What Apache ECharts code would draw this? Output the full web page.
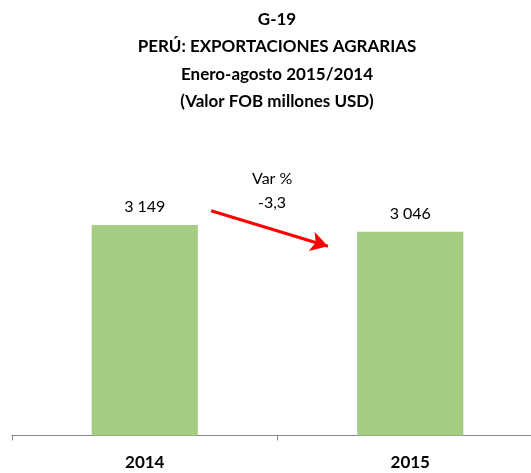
<!DOCTYPE html>
<html><head><meta charset="utf-8">
<script src="https://cdn.jsdelivr.net/npm/echarts@6/dist/echarts.min.js"></script>
<style>html,body{margin:0;padding:0;background:#fff}#c{width:531px;height:473px}</style>
</head><body><div id="c"></div>
<script>
var categories = ['2014', '2015'];
var values = [3149, 3046];
var titleLines = ['G-19', 'PERÚ: EXPORTACIONES AGRARIAS', 'Enero-agosto 2015/2014', '(Valor FOB millones USD)'];
var varLabel = 'Var %';
// arrow annotation endpoints in data units [categoryPosition, value]
var arrowFrom = [0.25, 3360];
var arrowTo = [0.69, 2830];

var FONT = 'Lato, "Open Sans", sans-serif';
function fmt(v){ return String(v).replace(/\B(?=(\d{3})+(?!\d))/g, ' '); }
var pct = ((values[1] / values[0]) - 1) * 100;
var pctText = pct.toFixed(1).replace('.', ',');

var chart = echarts.init(document.getElementById('c'));
var titles = titleLines.map(function(t, i){
  return { text: t, left: 272, textAlign: 'center', top: 6 + i * 27.5,
    textStyle: { fontFamily: FONT, fontSize: 17, fontWeight: 'bold', color: '#000' } };
});
chart.setOption({
  animation: false,
  title: titles,
  grid: { left: 12, width: 531, top: 168, bottom: 37.5, containLabel: false, outerBoundsMode: 'none' },
  xAxis: [{
    type: 'category', data: categories,
    axisLine: { lineStyle: { color: '#868686', width: 1 } },
    axisTick: { show: true, length: 5, lineStyle: { color: '#868686' } },
    axisLabel: { fontFamily: FONT, fontSize: 17, fontWeight: 'bold', color: '#000', margin: 19 }
  }, {
    type: 'value', min: -0.5, max: 1.5, show: false
  }],
  yAxis: { type: 'value', min: 0, max: 4000, show: false, splitLine: { show: false } },
  series: [{
    type: 'bar', data: values, barWidth: '40%',
    itemStyle: { color: '#A5CE84' },
    label: { show: true, position: 'top', distance: 10, formatter: function(p){ return fmt(p.value); },
      fontFamily: FONT, fontSize: 16, color: '#000' }
  }, {
    type: 'line', xAxisIndex: 1, data: [], silent: true,
    markLine: {
      silent: true, symbol: ['none', 'arrow'], symbolSize: [15, 17],
      lineStyle: { color: '#FF0000', width: 3, type: 'solid' },
      label: { show: false },
      data: [[{ coord: arrowFrom }, { coord: arrowTo }]]
    }
  }],
  graphic: [
    { type: 'text', left: 252, top: 171, style: { text: varLabel, font: '16px ' + FONT, fill: '#000' } },
    { type: 'text', left: 258, top: 195, style: { text: pctText, font: '16px ' + FONT, fill: '#000' } }
  ]
});
</script></body></html>
